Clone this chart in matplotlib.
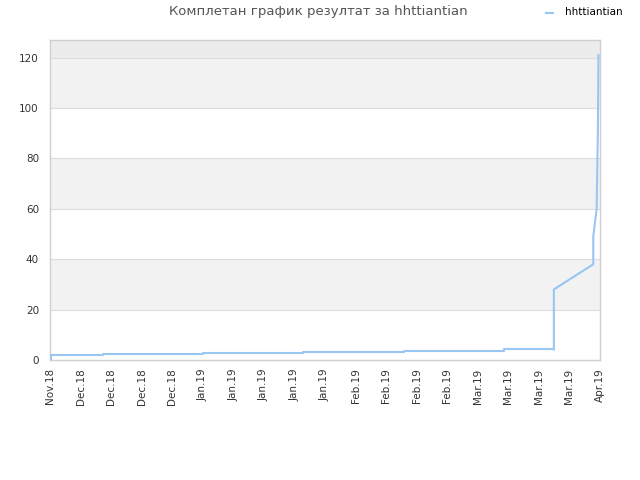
import matplotlib
matplotlib.use("Agg")
import matplotlib.pyplot as plt
import numpy as np

# ---- data ----
tick_labels = ["Nov.18", "Dec.18", "Dec.18", "Dec.18", "Dec.18", "Jan.19", "Jan.19",
               "Jan.19", "Jan.19", "Jan.19", "Feb.19", "Feb.19", "Feb.19", "Feb.19",
               "Mar.19", "Mar.19", "Mar.19", "Mar.19", "Apr.19"]
# step part (x in tick units, level held until next x)
step_x = [0.0, 0.04, 1.72, 5.0, 8.28, 11.59, 14.86]
step_y = [0.0, 2.1, 2.5, 2.9, 3.3, 3.7, 4.2]
# final part (linear)
end_x = [16.49, 16.49, 17.78, 17.78, 17.84, 17.89, 17.93, 17.95]
end_y = [4.2, 28.0, 38.0, 49.0, 55.0, 60.0, 90.0, 121.0]
series_name = "hhttiantian"
title = "Комплетан график резултат за hhttiantian"

line_color = "#99c6f2"

fig = plt.figure(figsize=(6.4, 4.8), dpi=100)
ax = fig.add_axes([50/640, 120/480, 550/640, 320/480])

ymax = 127
# background bands
ax.axhspan(20, 40, color="#f2f2f2", zorder=0, lw=0)
ax.axhspan(60, 80, color="#f2f2f2", zorder=0, lw=0)
ax.axhspan(100, 120, color="#f2f2f2", zorder=0, lw=0)
ax.axhspan(120, ymax, color="#ececec", zorder=0, lw=0)
for yv in [20, 40, 60, 80, 100, 120]:
    ax.axhline(yv, color="#dddddd", lw=0.8, zorder=1)

# step line
sx = list(step_x) + [end_x[0]]
sy = list(step_y) + [step_y[-1]]
ax.plot(sx, sy, drawstyle="steps-post", color=line_color, lw=1.5, zorder=3,
        label=series_name)
ax.plot(end_x, end_y, color=line_color, lw=1.5, zorder=3)

ax.set_xlim(0, len(tick_labels) - 1)
ax.set_ylim(0, ymax)
ax.set_xticks(range(len(tick_labels)))
ax.set_xticklabels(tick_labels, rotation=90, fontsize=7.5, color="#333333")
ax.set_yticks([0, 20, 40, 60, 80, 100, 120])
ax.set_yticklabels(["0", "20", "40", "60", "80", "100", "120"], fontsize=7.5, color="#333333")
ax.tick_params(length=0, pad=8)
ax.tick_params(axis="x", pad=6)
for s in ax.spines.values():
    s.set_color("#d0d0d0")
    s.set_linewidth(1)

fig.text(318/640, 1 - 12/480, title, ha="center", va="center", fontsize=9.5, color="#555555")

# legend
fig.lines.append(plt.Line2D([546/640, 553/640], [1 - 13/480, 1 - 13/480],
                            transform=fig.transFigure, color=line_color, lw=1.5))
fig.text(565/640, 1 - 12/480, series_name, ha="left", va="center", fontsize=7.5, color="#000000")

fig.savefig("out.png", dpi=100, facecolor="white")
